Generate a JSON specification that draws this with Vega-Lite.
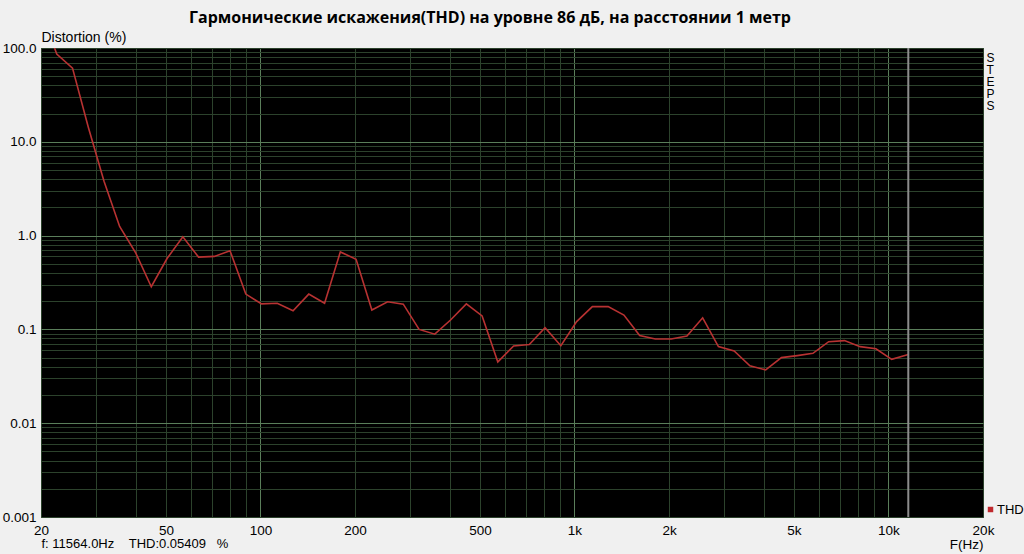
{
  "$schema": "https://vega.github.io/schema/vega-lite/v6.json",
  "autosize": {"type": "none"},
  "width": 942,
  "height": 469,
  "padding": {"left": 41, "top": 48, "right": 41, "bottom": 37},
  "background": "#f0f0f0",
  "config": {
    "view": {"fill": "#000000", "stroke": "#3d5a3d", "strokeWidth": 1},
    "font": "Liberation Sans"
  },
  "title": {
    "text": "Гармонические искажения(THD) на уровне 86 дБ, на расстоянии 1 метр",
    "font": "Open Sans",
    "fontSize": 16,
    "fontWeight": "bold",
    "color": "#000000",
    "anchor": "middle",
    "dx": -22,
    "dy": 16,
    "offset": 4,
    "baseline": "bottom"
  },
  "resolve": {"axis": {"x": "independent", "y": "independent"}},
  "layer": [
    {
      "data": {"values": [
        {"f": 20, "thd": 250, "series": "THD"},
        {"f": 22.45, "thd": 86, "series": "THD"},
        {"f": 25.2, "thd": 61, "series": "THD"},
        {"f": 28.28, "thd": 14.4, "series": "THD"},
        {"f": 31.75, "thd": 3.8, "series": "THD"},
        {"f": 35.6, "thd": 1.25, "series": "THD"},
        {"f": 40, "thd": 0.66, "series": "THD"},
        {"f": 44.9, "thd": 0.285, "series": "THD"},
        {"f": 50.4, "thd": 0.57, "series": "THD"},
        {"f": 56.6, "thd": 0.97, "series": "THD"},
        {"f": 63.5, "thd": 0.59, "series": "THD"},
        {"f": 71.3, "thd": 0.6, "series": "THD"},
        {"f": 80, "thd": 0.69, "series": "THD"},
        {"f": 89.8, "thd": 0.238, "series": "THD"},
        {"f": 100.8, "thd": 0.187, "series": "THD"},
        {"f": 113.1, "thd": 0.19, "series": "THD"},
        {"f": 127, "thd": 0.158, "series": "THD"},
        {"f": 142.5, "thd": 0.238, "series": "THD"},
        {"f": 160, "thd": 0.19, "series": "THD"},
        {"f": 179.6, "thd": 0.67, "series": "THD"},
        {"f": 201.6, "thd": 0.56, "series": "THD"},
        {"f": 226.3, "thd": 0.161, "series": "THD"},
        {"f": 254, "thd": 0.197, "series": "THD"},
        {"f": 285, "thd": 0.186, "series": "THD"},
        {"f": 320, "thd": 0.1, "series": "THD"},
        {"f": 359, "thd": 0.089, "series": "THD"},
        {"f": 403, "thd": 0.126, "series": "THD"},
        {"f": 452.5, "thd": 0.187, "series": "THD"},
        {"f": 508, "thd": 0.139, "series": "THD"},
        {"f": 570, "thd": 0.045, "series": "THD"},
        {"f": 640, "thd": 0.0666, "series": "THD"},
        {"f": 718, "thd": 0.069, "series": "THD"},
        {"f": 806, "thd": 0.104, "series": "THD"},
        {"f": 905, "thd": 0.067, "series": "THD"},
        {"f": 1016, "thd": 0.121, "series": "THD"},
        {"f": 1140, "thd": 0.175, "series": "THD"},
        {"f": 1280, "thd": 0.175, "series": "THD"},
        {"f": 1437, "thd": 0.142, "series": "THD"},
        {"f": 1613, "thd": 0.086, "series": "THD"},
        {"f": 1810, "thd": 0.079, "series": "THD"},
        {"f": 2032, "thd": 0.079, "series": "THD"},
        {"f": 2281, "thd": 0.085, "series": "THD"},
        {"f": 2560, "thd": 0.133, "series": "THD"},
        {"f": 2874, "thd": 0.0655, "series": "THD"},
        {"f": 3225, "thd": 0.059, "series": "THD"},
        {"f": 3620, "thd": 0.041, "series": "THD"},
        {"f": 4064, "thd": 0.037, "series": "THD"},
        {"f": 4561, "thd": 0.05, "series": "THD"},
        {"f": 5120, "thd": 0.0525, "series": "THD"},
        {"f": 5747, "thd": 0.0556, "series": "THD"},
        {"f": 6450, "thd": 0.074, "series": "THD"},
        {"f": 7240, "thd": 0.076, "series": "THD"},
        {"f": 8127, "thd": 0.0655, "series": "THD"},
        {"f": 9123, "thd": 0.0622, "series": "THD"},
        {"f": 10240, "thd": 0.048, "series": "THD"},
        {"f": 11564, "thd": 0.05409, "series": "THD"}
      ]},
      "mark": {"type": "line", "clip": true, "strokeWidth": 1.6},
      "encoding": {
        "x": {
          "field": "f", "type": "quantitative",
          "scale": {"type": "log", "domain": [20, 20000], "nice": false},
          "axis": {
            "orient": "bottom",
            "values": [20,30,40,50,60,70,80,90,100,200,300,400,500,600,700,800,900,1000,2000,3000,4000,5000,6000,7000,8000,9000,10000,20000],
            "labelExpr": "indexof([20,50,100,200,500],datum.value)>=0 ? datum.value+'' : indexof([1000,2000,5000,10000,20000],datum.value)>=0 ? (datum.value/1000)+'k' : ''",
            "labelFont": "Liberation Sans", "labelFontSize": 13.5, "labelColor": "#000000",
            "labelPadding": 6, "labelBaseline": "top", "labelOverlap": false, "labelFlush": false,
            "ticks": false, "domain": false,
            "grid": true,
            "gridColor": {"condition": {"test": "indexof([100,1000,10000],datum.value)>=0", "value": "#5a7e5a"}, "value": "#2c422c"},
            "gridWidth": 1,
            "title": "F(Hz)",
            "titleFont": "Liberation Sans", "titleFontSize": 13.5, "titleFontWeight": "normal", "titleColor": "#000000",
            "titleAlign": "right", "titleBaseline": "top", "titleAnchor": null,
            "titleX": 942, "titleY": 20
          }
        },
        "y": {
          "field": "thd", "type": "quantitative",
          "scale": {"type": "log", "domain": [0.001, 100], "nice": false},
          "axis": {
            "orient": "left",
            "values": [0.001,0.002,0.003,0.004,0.005,0.006,0.007,0.008,0.009,0.01,0.02,0.03,0.04,0.05,0.06,0.07,0.08,0.09,0.1,0.2,0.3,0.4,0.5,0.6,0.7,0.8,0.9,1,2,3,4,5,6,7,8,9,10,20,30,40,50,60,70,80,90,100],
            "labelExpr": "datum.value==100 ? '100.0' : datum.value==10 ? '10.0' : datum.value==1 ? '1.0' : datum.value==0.1 ? '0.1' : datum.value==0.01 ? '0.01' : datum.value==0.001 ? '0.001' : ''",
            "labelFont": "Liberation Sans", "labelFontSize": 13.5, "labelColor": "#000000",
            "labelPadding": 5, "labelOverlap": false, "labelFlush": false, "labelBaseline": "middle",
            "ticks": false, "domain": false,
            "grid": true,
            "gridColor": {"condition": {"test": "indexof([0.01,0.1,1,10],datum.value)>=0", "value": "#5a7e5a"}, "value": "#2c422c"},
            "title": "Distortion (%)",
            "titleFont": "Liberation Sans", "titleFontSize": 14, "titleFontWeight": "normal", "titleColor": "#000000",
            "titleAngle": 0, "titleAlign": "left", "titleBaseline": "bottom", "titleAnchor": null,
            "titleX": 0, "titleY": -4
          }
        },
        "color": {
          "field": "series", "type": "nominal",
          "scale": {"range": ["#b83232"]},
          "legend": {
            "orient": "none", "legendX": 943, "legendY": 455,
            "title": null, "symbolType": "square", "symbolSize": 30,
            "symbolFillColor": "#c0282d", "symbolStrokeWidth": 0,
            "labelFont": "Liberation Sans", "labelFontSize": 13, "labelColor": "#000000",
            "labelOffset": 0, "padding": 0
          }
        }
      }
    },
    {
      "data": {"values": [{"f": 11564, "label": "cursor"}]},
      "mark": {"type": "rule", "color": "#8c8c8c", "strokeWidth": 2},
      "encoding": {
        "x": {
          "field": "f", "type": "quantitative",
          "axis": {
            "orient": "bottom",
            "labels": false, "ticks": false, "domain": false, "grid": false,
            "title": "f: 11564.0Hz\u00a0\u00a0\u00a0\u00a0THD:0.05409\u00a0\u00a0\u00a0%",
            "titleFont": "Liberation Sans", "titleFontSize": 13, "titleFontWeight": "normal", "titleColor": "#000000",
            "titleAlign": "left", "titleBaseline": "top", "titleAnchor": null,
            "titleX": 0, "titleY": 20
          }
        },
        "y": {"datum": 0.001, "type": "quantitative",
          "axis": {
            "orient": "right",
            "labels": false, "ticks": false, "domain": false, "grid": false,
            "title": ["S", "T", "E", "P", "S"],
            "titleFont": "Liberation Sans", "titleFontSize": 12, "titleFontWeight": "normal", "titleColor": "#000000",
            "titleAngle": 0, "titleAlign": "left", "titleBaseline": "top", "titleAnchor": null,
            "titleX": 3, "titleY": 4, "titleLineHeight": 12
          }
        },
        "y2": {"datum": 100}
      }
    }
  ]
}
